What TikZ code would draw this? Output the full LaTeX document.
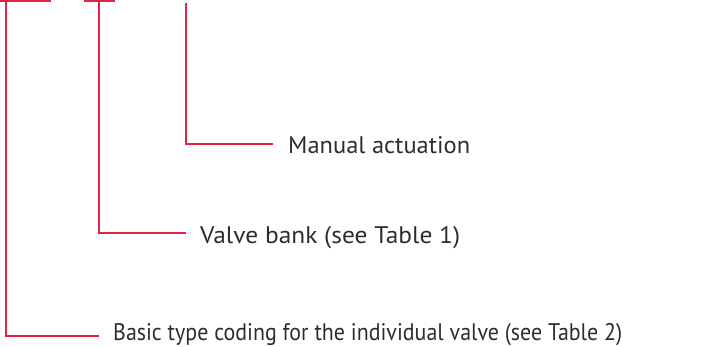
\documentclass[tikz,border=0pt]{standalone}
\usepackage{fontspec}
\usepackage{graphicx}
\setmainfont{PT Sans}
\definecolor{lead}{RGB}{228,35,72}
\definecolor{txt}{RGB}{45,45,45}
\newcommand{\fitw}[2]{\resizebox{#1}{\height}{#2}}
\begin{document}
\begin{tikzpicture}[x=1pt,y=-1pt,
  leader/.style={draw=lead,line width=2.6pt},
  label/.style={anchor=base west,inner sep=0pt,text=txt,font=\fontsize{24}{28}\selectfont}]
\useasboundingbox (0,0) rectangle (709,346);
% labels
\node[label] (ma) at (288,153) {\fitw{182pt}{Manual actuation}};
\node[label] (vb) at (200,243) {\fitw{260pt}{Valve bank (see Table 1)}};
\node[label] (bt) at (113,340) {\fitw{509pt}{Basic type coding for the individual valve (see Table 2)}};
% coordinates
\coordinate (t1a) at (0,1);   \coordinate (t1b) at (51,1);  \coordinate (v1) at (6,1);
\coordinate (c1) at (6,336);  \coordinate (e1) at (99,336);
\coordinate (t2a) at (84,1);  \coordinate (t2b) at (115,1); \coordinate (v2) at (99,1);
\coordinate (c2) at (99,233); \coordinate (e2) at (186,233);
\coordinate (v3) at (186,3);  \coordinate (c3) at (186,144); \coordinate (e3) at (273,144);
% leaders
\draw[leader] (t1a) -- (t1b);
\draw[leader] (v1) -- (c1) -- (e1);
\draw[leader] (t2a) -- (t2b);
\draw[leader] (v2) -- (c2) -- (e2);
\draw[leader] (v3) -- (c3) -- (e3);
\end{tikzpicture}
\end{document}
